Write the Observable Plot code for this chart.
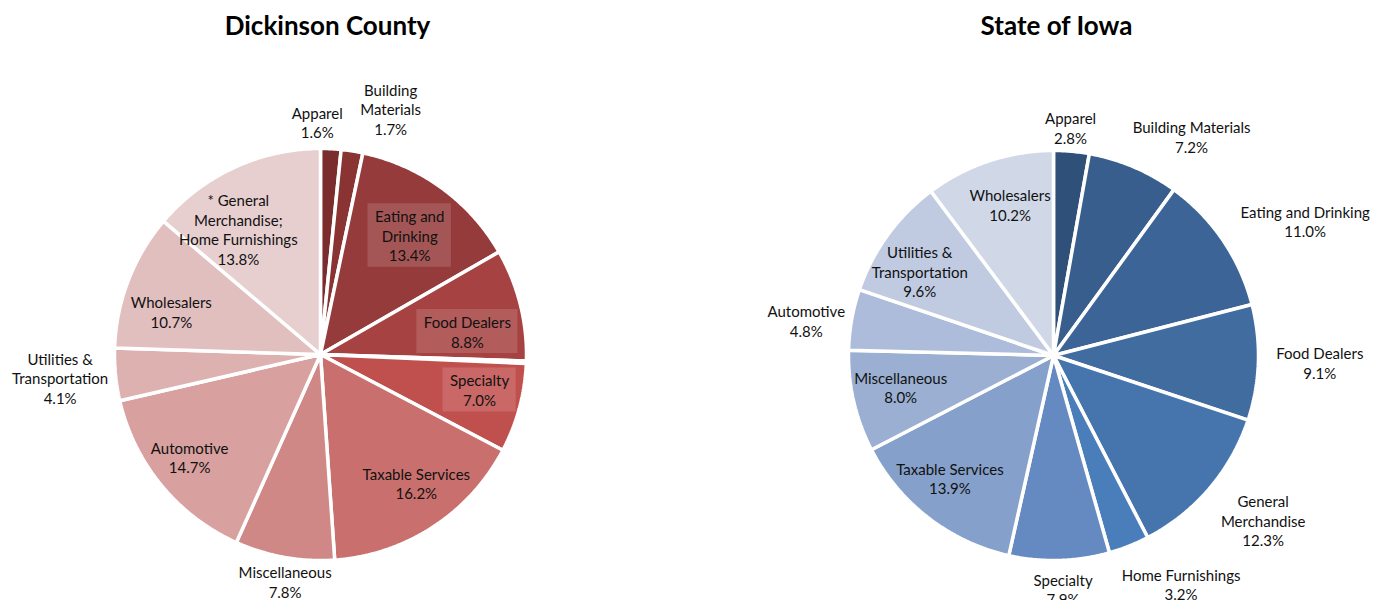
<!DOCTYPE html>
<html><head><meta charset="utf-8">
<script src="https://cdn.jsdelivr.net/npm/d3@7"></script>
<script src="https://cdn.jsdelivr.net/npm/@observablehq/plot@0.6"></script>
<style>body{margin:0;background:#fff;}</style>
</head><body><div id="chart"></div>
<script>
// ---------- DATA ----------
const dickinsonCategories = ["Apparel","Building Materials","Eating and Drinking","Food Dealers","(other)","Specialty","Taxable Services","Miscellaneous","Automotive","Utilities & Transportation","Wholesalers","* General Merchandise; Home Furnishings"];
const dickinsonLabels = ["Apparel","Building\nMaterials","Eating and\nDrinking","Food Dealers",null,"Specialty","Taxable Services","Miscellaneous","Automotive","Utilities &\nTransportation","Wholesalers","* General\nMerchandise;\nHome Furnishings"];
const dickinsonValues = [1.6,1.7,13.4,8.8,0.2,7.0,16.2,7.8,14.7,4.1,10.7,13.8];

const iowaCategories = ["Apparel","Building Materials","Eating and Drinking","Food Dealers","General Merchandise","Home Furnishings","Specialty","Taxable Services","Miscellaneous","Automotive","Utilities & Transportation","Wholesalers"];
const iowaLabels = ["Apparel","Building Materials","Eating and Drinking","Food Dealers","General\nMerchandise","Home Furnishings","Specialty","Taxable Services","Miscellaneous","Automotive","Utilities &\nTransportation","Wholesalers"];
const iowaValues = [2.8,7.2,11.0,9.1,12.3,3.2,7.9,13.9,8.0,4.8,9.6,10.2];

// ---------- STYLE / LAYOUT ----------
const dickinsonColors = ["#7b2c2c","#8a3333","#963b3b","#a64241","#b24746","#c0504d","#c9706e","#d08886","#d8a09f","#ddb1b0","#e2bfbf","#e8cfcf"];
const iowaColors = ["#2f5078","#375e8c","#3c6496","#416ca0","#4675ad","#4a7ebb","#6589c1","#85a0ca","#9aafd2","#adbcdb","#c0cbe2","#d0d8e8"];
// label placement: radial fraction k along slice mid-angle, plus pixel nudge; box = boxed label
const dickinsonLabelLayout = [
  {k:1.13,dx:-15,dy:0},{k:1.24,dx:31,dy:7},{k:0.72,dx:2,dy:1,box:true},{k:0.72,dx:3,dy:13,box:true},null,
  {k:0.79,dx:2,dy:-7,box:true},{k:0.78,dx:8,dy:-6},{k:1.12,dx:5,dy:0},{k:0.81,dx:-2,dy:-3},
  {k:1.27,dx:0,dy:-2},{k:0.75,dx:-5,dy:13},{k:0.73,dx:-19,dy:11}
];
const iowaLabelLayout = [
  {k:1.115,dx:-3,dy:0},{k:1.26,dx:37,dy:19},{k:1.39,dx:16,dy:26},{k:1.30,dx:0,dy:-2},{k:1.30,dx:7,dy:-8},
  {k:1.28,dx:31,dy:-15},{k:1.14,dx:3,dy:0},{k:0.78,dx:-6,dy:-4},{k:0.76,dx:-1,dy:-3},{k:1.22,dx:-1,dy:9},
  {k:0.77,dx:-6,dy:9},{k:0.765,dx:6,dy:-2}
];
const pies = [
  {title:"Dickinson County", titleX:327, cx:320, cy:354, r:206, cats:dickinsonCategories, labels:dickinsonLabels, values:dickinsonValues, colors:dickinsonColors, layout:dickinsonLabelLayout},
  {title:"State of Iowa", titleX:1056, cx:1053, cy:355, r:205, cats:iowaCategories, labels:iowaLabels, values:iowaValues, colors:iowaColors, layout:iowaLabelLayout}
];
const FONT = "Lato, 'Open Sans', sans-serif";
const FS = 15, LH = 1.3;

const ctx = document.createElement("canvas").getContext("2d");
ctx.font = `${FS}px Lato`;

const slicePts = [], labelRows = [], boxRows = [], titles = [];
for (const p of pies) {
  titles.push({x:p.titleX, y:26, text:p.title});
  const rows = p.cats.map((c,i)=>({key:p.title+"|"+i, cat:c, value:p.values[i], color:p.colors[i], label:p.labels[i], lay:p.layout[i]}));
  const arcs = d3.pie().sort(null).value(d=>d.value)(rows);
  for (const a of arcs) {
    const d = a.data;
    const n = Math.max(2, Math.ceil((a.endAngle - a.startAngle) / (Math.PI/360)));
    slicePts.push({key:d.key, color:d.color, x:p.cx, y:p.cy});
    for (let j=0;j<=n;j++){
      const t = a.startAngle + (a.endAngle - a.startAngle)*j/n;
      slicePts.push({key:d.key, color:d.color, x:p.cx + p.r*Math.sin(t), y:p.cy - p.r*Math.cos(t)});
    }
    slicePts.push({key:d.key, color:d.color, x:p.cx, y:p.cy});
    if (d.label && d.lay) {
      const mid = (a.startAngle + a.endAngle)/2;
      const x = p.cx + p.r*d.lay.k*Math.sin(mid) + d.lay.dx;
      const y = p.cy - p.r*d.lay.k*Math.cos(mid) + d.lay.dy;
      const text = d.label + "\n" + d.value.toFixed(1) + "%";
      labelRows.push({x, y, text});
      if (d.lay.box) {
        const lines = text.split("\n");
        const w = d3.max(lines, l => ctx.measureText(l).width) + 14;
        const h = lines.length*FS*LH + 5;
        boxRows.push({x1:x-w/2, x2:x+w/2, y1:y-h/2, y2:y+h/2});
      }
    }
  }
}

const chart = Plot.plot({
  width:1381, height:600, margin:0,
  x:{domain:[0,1381], range:[0,1381], axis:null},
  y:{domain:[0,600], range:[0,600], axis:null},
  color:{type:"identity"},
  style:{fontFamily:FONT, background:"#fff"},
  marks:[
    Plot.line(slicePts, {x:"x", y:"y", z:"key", fill:"color", stroke:"white", strokeWidth:3.5, strokeLinejoin:"miter", curve:"linear"}),
    Plot.rect(boxRows, {x1:"x1", x2:"x2", y1:"y1", y2:"y2", fill:"white", fillOpacity:0.14}),
    Plot.text(labelRows, {x:"x", y:"y", text:"text", fontSize:FS, lineHeight:LH, lineAnchor:"middle", textAnchor:"middle", fill:"#111", fontFamily:FONT}),
    Plot.text(titles, {x:"x", y:"y", text:"text", fontSize:26, fontWeight:"bold", fill:"#000", lineAnchor:"middle", fontFamily:FONT})
  ]
});
document.getElementById("chart").appendChild(chart);
</script>
</body></html>
